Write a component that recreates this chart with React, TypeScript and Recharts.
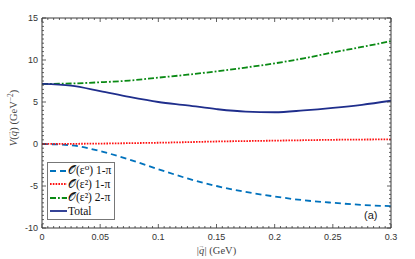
import React from 'react';
import { LineChart, Line, XAxis, YAxis, Legend } from 'recharts';

// ---- data ----
const qValues = [0, 0.025, 0.05, 0.075, 0.1, 0.125, 0.15, 0.175, 0.2, 0.225, 0.25, 0.275, 0.3];
const lo1pi = [0, -0.15, -0.85, -1.85, -3.0, -4.1, -5.0, -5.7, -6.25, -6.7, -7.0, -7.25, -7.4];
const nlo1pi = [0, 0.02, 0.05, 0.1, 0.15, 0.22, 0.3, 0.35, 0.4, 0.45, 0.5, 0.53, 0.55];
const nlo2pi = [7.15, 7.2, 7.35, 7.55, 7.9, 8.25, 8.65, 9.1, 9.6, 10.2, 10.9, 11.55, 12.25];
const total = [7.15, 6.95, 6.3, 5.6, 5.0, 4.6, 4.15, 3.85, 3.78, 4.0, 4.3, 4.67, 5.15];

const xMajorTicks = [0, 0.05, 0.1, 0.15, 0.2, 0.25, 0.3];
const xTickLabels = ['0', '0.05', '0.1', '0.15', '0.2', '0.25', '0.3'];
const yMajorTicks = [-10, -5, 0, 5, 10, 15];
const yTickLabels = ['-10', '-5', '0', '5', '10', '15'];

const legendLabels = ['\u{1D4AA}(\u03B5\u2070) 1-\u03C0', '\u{1D4AA}(\u03B5\u00B2) 1-\u03C0', '\u{1D4AA}(\u03B5\u00B2) 2-\u03C0', 'Total'];

const series = [
  { key: 'lo1pi', color: '#0072BD', dash: '6 4', width: 1.8 },
  { key: 'nlo1pi', color: '#FF1010', dash: '1.6 1.2', width: 1.8 },
  { key: 'nlo2pi', color: '#0A8A14', dash: '6 2 1.8 2', width: 1.8 },
  { key: 'total', color: '#1F2E8C', dash: undefined as string | undefined, width: 1.8 },
];

const data = qValues.map((q, i) => ({
  q,
  lo1pi: lo1pi[i],
  nlo1pi: nlo1pi[i],
  nlo2pi: nlo2pi[i],
  total: total[i],
}));

const xTicks: number[] = [];
for (let i = 0; i <= 60; i++) xTicks.push(Math.round(i * 0.005 * 1000) / 1000);
const yTicks: number[] = [];
for (let i = 0; i <= 50; i++) yTicks.push(-10 + i * 0.5);

const AX = '#3a3a3a';
const TICK_FONT = '"Liberation Sans", Arial, sans-serif';
const SERIF = '"Liberation Serif", "DejaVu Serif", serif';
const MAJ = 4;
const MIN = 2;

const findIdx = (arr: number[], v: number) => arr.findIndex((t) => Math.abs(t - v) < 1e-9);

const BottomTick = (props: any) => {
  const { x, y, payload } = props;
  const idx = findIdx(xMajorTicks, payload.value);
  const major = idx >= 0;
  return (
    <g>
      <line x1={x} x2={x} y1={y} y2={y - (major ? MAJ : MIN)} stroke={AX} strokeWidth={0.8} />
      {major && (
        <text x={x} y={y + 12} textAnchor="middle" fontFamily={TICK_FONT} fontSize={9} fill="#333">
          {xTickLabels[idx]}
        </text>
      )}
    </g>
  );
};

const TopTick = (props: any) => {
  const { x, y, payload } = props;
  const major = findIdx(xMajorTicks, payload.value) >= 0;
  return <line x1={x} x2={x} y1={y} y2={y + (major ? MAJ : MIN)} stroke={AX} strokeWidth={0.8} />;
};

const LeftTick = (props: any) => {
  const { x, y, payload } = props;
  const idx = findIdx(yMajorTicks, payload.value);
  const major = idx >= 0;
  return (
    <g>
      <line x1={x} x2={x + (major ? MAJ : MIN)} y1={y} y2={y} stroke={AX} strokeWidth={0.8} />
      {major && (
        <text x={x - 4} y={y + 3} textAnchor="end" fontFamily={TICK_FONT} fontSize={9} fill="#333">
          {yTickLabels[idx]}
        </text>
      )}
    </g>
  );
};

const RightTick = (props: any) => {
  const { x, y, payload } = props;
  const major = findIdx(yMajorTicks, payload.value) >= 0;
  return <line x1={x} x2={x - (major ? MAJ : MIN)} y1={y} y2={y} stroke={AX} strokeWidth={0.8} />;
};

const XLabel = (props: any) => {
  const vb = props && props.viewBox && props.viewBox.width ? props.viewBox : { x: 42, y: 228, width: 349, height: 0 };
  const cx = vb.x + vb.width / 2;
  return (
    <text x={cx} y={254} textAnchor="middle" fontFamily={SERIF} fontSize={10.5} fill="#444">
      |<tspan fontStyle="italic">q</tspan>
      <tspan dx={-5.6} dy={-6.5} fontSize={6}>{'\u2192'}</tspan>
      <tspan dy={6.5}>| (GeV)</tspan>
    </text>
  );
};

const YLabel = () => {
  const cy = 118;
  const cx = 17;
  return (
    <text x={cx} y={cy} transform={`rotate(-90 ${cx} ${cy})`} textAnchor="middle" fontFamily={SERIF} fontSize={10.5} fill="#444">
      <tspan fontStyle="italic">V</tspan>(<tspan fontStyle="italic">q</tspan>
      <tspan dx={-5.6} dy={-6.5} fontSize={6}>{'\u2192'}</tspan>
      <tspan dy={6.5}>) (GeV</tspan>
      <tspan dy={-4} fontSize={7.5}>{'\u22122'}</tspan>
      <tspan dy={4}>)</tspan>
    </text>
  );
};

const LegendBox = () => (
  <div
    style={{
      border: '1.5px solid #777',
      background: '#fff',
      padding: '1px 3px 1px 2px',
      fontFamily: SERIF,
      fontSize: 11.5,
      lineHeight: '13.5px',
      color: '#111',
      boxSizing: 'border-box',
    }}
  >
    {series.map((s, i) => (
      <div key={s.key} style={{ display: 'flex', alignItems: 'center', whiteSpace: 'nowrap' }}>
        <svg width={17} height={8} style={{ marginRight: 1 }}>
          <line x1={0} x2={17} y1={4} y2={4} stroke={s.color} strokeWidth={s.width} strokeDasharray={s.dash} />
        </svg>
        <span>{legendLabels[i]}</span>
      </div>
    ))}
  </div>
);

export default function App() {
  return (
    <div style={{ position: 'fixed', left: 0, top: 0, width: 415, height: 259, background: '#fff' }}>
      <LineChart width={415} height={259} data={data} margin={{ top: 17, right: 23, bottom: 30, left: 41 }}>
        <XAxis
          xAxisId="b"
          dataKey="q"
          type="number"
          domain={[0, 0.3]}
          allowDataOverflow
          ticks={xTicks}
          interval={0}
          height={1}
          tickSize={0}
          tickMargin={0}
          tickLine={false}
          tick={BottomTick}
          axisLine={{ stroke: AX, strokeWidth: 1 }}
          label={XLabel}
        />
        <XAxis
          xAxisId="t"
          orientation="top"
          dataKey="q"
          type="number"
          domain={[0, 0.3]}
          allowDataOverflow
          ticks={xTicks}
          interval={0}
          height={1}
          tickSize={0}
          tickMargin={0}
          tickLine={false}
          tick={TopTick}
          axisLine={{ stroke: AX, strokeWidth: 1 }}
        />
        <YAxis
          yAxisId="l"
          type="number"
          domain={[-10, 15]}
          allowDataOverflow
          ticks={yTicks}
          interval={0}
          width={1}
          tickSize={0}
          tickMargin={0}
          tickLine={false}
          tick={LeftTick}
          axisLine={{ stroke: AX, strokeWidth: 1 }}
          label={YLabel}
        />
        <YAxis
          yAxisId="r"
          orientation="right"
          type="number"
          domain={[-10, 15]}
          allowDataOverflow
          ticks={yTicks}
          interval={0}
          width={1}
          tickSize={0}
          tickMargin={0}
          tickLine={false}
          tick={RightTick}
          axisLine={{ stroke: AX, strokeWidth: 1 }}
        />
        {series.map((s) => (
          <Line
            key={s.key}
            xAxisId="b"
            yAxisId="l"
            dataKey={s.key}
            type="monotone"
            stroke={s.color}
            strokeWidth={s.width}
            strokeDasharray={s.dash}
            dot={false}
            activeDot={false}
            isAnimationActive={false}
          />
        ))}
        <Legend
          layout="horizontal"
          verticalAlign="middle"
          align="center"
          content={LegendBox}
          wrapperStyle={{ left: 47, top: 162, width: 'auto', height: 'auto' }}
        />
      </LineChart>
      <div
        style={{
          position: 'absolute',
          left: 364,
          top: 209,
          fontFamily: TICK_FONT,
          fontSize: 11,
          color: '#222',
        }}
      >
        (a)
      </div>
    </div>
  );
}
